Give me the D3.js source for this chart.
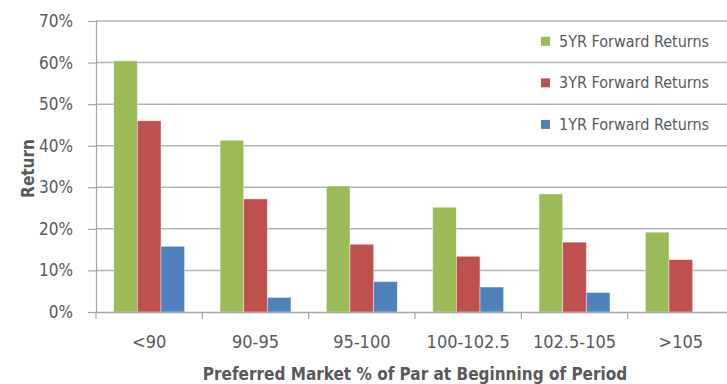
<!DOCTYPE html>
<html>
<head>
    <meta charset="UTF-8">
    <title>Preferred Market % of Par</title>
    <style>
        body { margin: 0; padding: 0; background: #FFFFFF; }
        .chart text { font-family: "DejaVu Sans Condensed", "Liberation Sans Narrow", sans-serif; fill: #58595B; }
        .axis-title { font-weight: bold; }
    </style>
</head>
<body>
<script src="https://cdn.jsdelivr.net/npm/d3@7"></script>
<script>
    const categories = ["<90", "90-95", "95-100", "100-102.5", "102.5-105", ">105"];
    const seriesNames = ["5YR Forward Returns", "3YR Forward Returns", "1YR Forward Returns"];
    const seriesColors = ["#9BBB59", "#C0504D", "#4F81BD"];
    const fiveYear = [0.604, 0.413, 0.303, 0.252, 0.284, 0.192];
    const threeYear = [0.460, 0.272, 0.163, 0.134, 0.168, 0.126];
    const oneYear = [0.158, 0.035, 0.073, 0.060, 0.047, null];
    const yTicks = [0, 0.1, 0.2, 0.3, 0.4, 0.5, 0.6, 0.7];

    const allSeries = [fiveYear, threeYear, oneYear];

    const width = 727, height = 384;
    const margin = {top: 21, right: -7, bottom: 72, left: 96};

    const svg = d3.select("body").append("svg")
        .attr("class", "chart")
        .attr("width", width)
        .attr("height", height);

    const x = d3.scaleBand()
        .domain(categories)
        .range([margin.left, width - margin.right])
        .paddingInner(0)
        .paddingOuter(0);

    const xInner = d3.scaleBand()
        .domain(d3.range(seriesNames.length))
        .range([0, x.bandwidth()])
        .paddingOuter(0.75)
        .paddingInner(0);

    const y = d3.scaleLinear()
        .domain([0, 0.7])
        .range([height - margin.bottom, margin.top]);

    // gridlines
    svg.append("g")
        .selectAll("line")
        .data(yTicks.slice(1))
        .join("line")
        .attr("x1", margin.left)
        .attr("x2", width)
        .attr("y1", d => y(d))
        .attr("y2", d => y(d))
        .attr("stroke", "#B3B3B3")
        .attr("stroke-width", 1.5);

    // legend (sits on the gridlines, one entry per gap)
    const legend = svg.append("g");
    const rowStep = y(0.5) - y(0.6);
    seriesNames.forEach(function (name, i) {
        const cy = (y(0.7) + y(0.6)) / 2 - 1 + i * rowStep;
        legend.append("rect")
            .attr("x", 541)
            .attr("y", cy - 4)
            .attr("width", 9)
            .attr("height", 9)
            .attr("fill", seriesColors[i]);
        legend.append("text")
            .attr("x", 559)
            .attr("y", cy)
            .attr("dy", "0.36em")
            .style("font-size", "16px")
            .text(name);
    });

    // bars
    const groups = svg.append("g")
        .selectAll("g")
        .data(categories)
        .join("g")
        .attr("transform", d => "translate(" + x(d) + ",0)");

    groups.selectAll("rect")
        .data((c, ci) => allSeries.map((s, si) => ({si: si, v: s[ci]})).filter(d => d.v != null))
        .join("rect")
        .attr("x", d => xInner(d.si))
        .attr("y", d => y(d.v))
        .attr("width", xInner.bandwidth())
        .attr("height", d => y(0) - y(d.v))
        .attr("fill", d => seriesColors[d.si])
        .attr("stroke", "#FFFFFF")
        .attr("stroke-opacity", 0.5)
        .attr("stroke-width", 0.8);

    // y axis
    const yAxis = svg.append("g")
        .attr("transform", "translate(" + margin.left + ",0)")
        .call(d3.axisLeft(y).tickValues(yTicks).tickFormat(d3.format(".0%")).tickSize(8).tickPadding(15));
    yAxis.select(".domain").attr("stroke", "#A6A6A6").attr("stroke-width", 1.2);
    yAxis.selectAll(".tick line").attr("stroke", "#A6A6A6").attr("stroke-width", 1.2);
    yAxis.selectAll("text").style("font-size", "17px");

    // x axis
    const xAxis = svg.append("g")
        .attr("transform", "translate(0," + y(0) + ")")
        .call(d3.axisBottom(x).tickSize(0).tickPadding(23));
    xAxis.select(".domain").attr("stroke", "#A6A6A6").attr("stroke-width", 1.5);
    xAxis.selectAll("text").style("font-size", "18px");
    xAxis.selectAll(".sep")
        .data(categories)
        .join("line")
        .attr("class", "sep")
        .attr("x1", d => x(d))
        .attr("x2", d => x(d))
        .attr("y1", 0)
        .attr("y2", 7)
        .attr("stroke", "#A6A6A6")
        .attr("stroke-width", 1.2);

    // axis titles
    svg.append("text")
        .attr("class", "axis-title")
        .attr("transform", "translate(34," + (y(0.35) + 2) + ") rotate(-90)")
        .attr("text-anchor", "middle")
        .style("font-size", "17px")
        .text("Return");

    svg.append("text")
        .attr("class", "axis-title")
        .attr("x", (margin.left + width - margin.right) / 2)
        .attr("y", 380)
        .attr("text-anchor", "middle")
        .style("font-size", "17px")
        .text("Preferred Market % of Par at Beginning of Period");
</script>
</body>
</html>
